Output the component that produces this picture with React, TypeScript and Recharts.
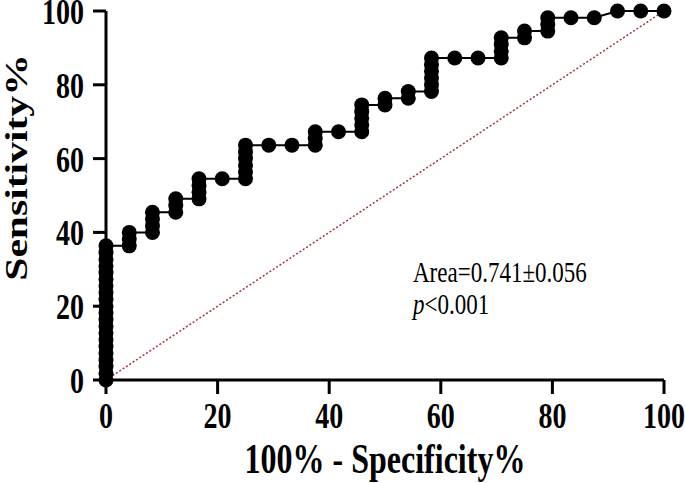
import { ScatterChart, Scatter, XAxis, YAxis, ReferenceLine, Label } from "recharts";

// 100% - Specificity% steps (24 negatives)
const fpr = [
  0, 4.17, 8.33, 12.5, 16.67, 20.83, 25, 29.17, 33.33, 37.5, 41.67, 45.83, 50,
  54.17, 58.33, 62.5, 66.67, 70.83, 75, 79.17, 83.33, 87.5, 91.67, 95.83, 100,
];

// Sensitivity% points found at each fpr step
const sensAtFpr = [
  [0, 1.82, 3.64, 5.45, 7.27, 9.09, 10.91, 12.73, 14.55, 16.36, 18.18, 20, 21.82, 23.64, 25.45, 27.27, 29.09, 30.91, 32.73, 34.55, 36.36],
  [36.36, 38.18, 40],
  [40, 41.82, 43.64, 45.45],
  [45.45, 47.27, 49.09],
  [49.09, 50.91, 52.73, 54.55],
  [54.55],
  [54.55, 56.36, 58.18, 60, 61.82, 63.64],
  [63.64],
  [63.64],
  [63.64, 65.45, 67.27],
  [67.27],
  [67.27, 69.09, 70.91, 72.73, 74.55],
  [74.55, 76.36],
  [76.36, 78.18],
  [78.18, 80, 81.82, 83.64, 85.45, 87.27],
  [87.27],
  [87.27],
  [87.27, 89.09, 90.91, 92.73],
  [92.73, 94.55],
  [94.55, 96.36, 98.18],
  [98.18],
  [98.18],
  [100],
  [100],
  [100],
];

const xTicks = [0, 20, 40, 60, 80, 100];
const yTicks = [0, 20, 40, 60, 80, 100];

const xTitle = "100% - Specificity%";
const yTitle = "Sensitivity%";
const areaText = "Area=0.741±0.056";
const pText = "<0.001";

const serif = "'Times New Roman', 'Liberation Serif', serif";
// the source figure's lettering is stretched vertically
const stretch = 1.3;

const roc = fpr.flatMap((x, i) => sensAtFpr[i].map((y) => ({ x, y })));

const Dot = (props: any) => <circle cx={props.cx} cy={props.cy} r={7.5} fill="#000" />;

const XTick = ({ x, y, payload }: any) => (
  <g transform={`translate(${x},${y}) scale(1,${stretch})`}>
    <text x={0} y={0} dy="0.71em" textAnchor="middle" fill="#000" fontSize={28} fontWeight="bold" fontFamily={serif}>
      {payload.value}
    </text>
  </g>
);

const YTick = ({ x, y, payload }: any) => (
  <g transform={`translate(${x},${y}) scale(1,${stretch})`}>
    <text x={0} y={0} dy="0.355em" textAnchor="end" fill="#000" fontSize={28} fontWeight="bold" fontFamily={serif}>
      {payload.value}
    </text>
  </g>
);

const XTitle = ({ viewBox }: any) => {
  const x = viewBox.x + viewBox.width / 2;
  const y = viewBox.y + viewBox.height - 10;
  return (
    <g transform={`translate(${x},${y}) scale(1,${stretch})`}>
      <text x={0} y={0} textAnchor="middle" fill="#000" fontSize={32} fontWeight="bold" fontFamily={serif}>
        {xTitle}
      </text>
    </g>
  );
};

const YTitle = ({ viewBox }: any) => {
  const x = viewBox.x + 27;
  const y = viewBox.y + viewBox.height / 2 - 28;
  return (
    <g transform={`translate(${x},${y}) rotate(-90) scale(${stretch},1)`}>
      <text x={0} y={0} textAnchor="middle" fill="#000" fontSize={32} fontWeight="bold" fontFamily={serif}>
        {yTitle}
      </text>
    </g>
  );
};

export default function App() {
  return (
    <div style={{ position: "absolute", left: 0, top: 0, width: 685, height: 483, background: "#fff" }}>
      <ScatterChart width={685} height={483} margin={{ top: 11, right: 21, bottom: 0, left: 0 }}>
        <XAxis
          type="number"
          dataKey="x"
          domain={[0, 100]}
          ticks={xTicks}
          interval={0}
          height={103}
          tickSize={14}
          tickMargin={8}
          axisLine={{ stroke: "#000", strokeWidth: 3 }}
          tickLine={{ stroke: "#000", strokeWidth: 3 }}
          tick={<XTick />}
        >
          <Label content={<XTitle />} />
        </XAxis>
        <YAxis
          type="number"
          dataKey="y"
          domain={[0, 100]}
          ticks={yTicks}
          interval={0}
          width={106}
          tickSize={13}
          tickMargin={9}
          axisLine={{ stroke: "#000", strokeWidth: 3 }}
          tickLine={{ stroke: "#000", strokeWidth: 3 }}
          tick={<YTick />}
        >
          <Label content={<YTitle />} />
        </YAxis>
        <ReferenceLine
          segment={[
            { x: 0, y: 0 },
            { x: 100, y: 100 },
          ]}
          stroke="#a8323a"
          strokeWidth={1.5}
          strokeDasharray="2 2"
          ifOverflow="visible"
        />
        <Scatter
          data={roc}
          fill="#000"
          line={{ stroke: "#000", strokeWidth: 2 }}
          shape={Dot}
          isAnimationActive={false}
        />
      </ScatterChart>
      <div
        style={{
          position: "absolute",
          left: 413,
          top: 257,
          fontFamily: serif,
          fontSize: 23,
          lineHeight: `${32 / stretch}px`,
          color: "#000",
          whiteSpace: "nowrap",
          transform: `scaleY(${stretch})`,
          transformOrigin: "top left",
        }}
      >
        <div>{areaText}</div>
        <div>
          <i>p</i>
          {pText}
        </div>
      </div>
    </div>
  );
}
